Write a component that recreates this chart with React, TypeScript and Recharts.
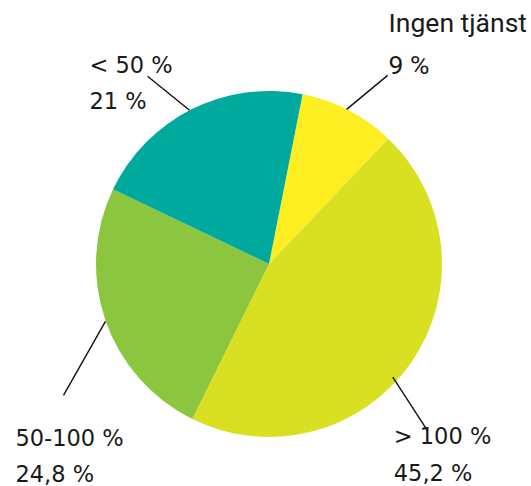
import { Cell, Pie, PieChart } from 'recharts';

const categories = ['Ingen tjänst', '> 100 %', '50-100 %', '< 50 %'];
const shares = [9, 45.2, 24.8, 21];
const shareLabels = ['9 %', '45,2 %', '24,8 %', '21 %'];
const sliceColors = ['#fcee21', '#d9e021', '#8cc63f', '#00a99d'];

// leader line + text offsets relative to the slice's outer edge at its mid angle
const labelLayout = [
  { a: [-2, -1], b: [39, -35], t: [40, -78], gap: 42, font: 'Roboto', size: 26.5 },
  { a: [-18, 14], b: [17, 68], t: [-17, 81], gap: 37, font: 'DejaVu Sans', size: 22.5 },
  { a: [0, 1], b: [-42, 75], t: [-90, 126], gap: 36, font: 'DejaVu Sans', size: 22.5 },
  { a: [-2, 1], b: [-44, -33], t: [-102, -36], gap: 36, font: 'DejaVu Sans', size: 22.5 }
];

const chartData = categories.map((name, i) => ({ name, value: shares[i], label: shareLabels[i] }));

const RAD = Math.PI / 180;

function renderLabel(props: any) {
  const { cx, cy, midAngle, outerRadius, index } = props;
  const layout = labelLayout[index];
  const ex = cx + outerRadius * Math.cos(-midAngle * RAD);
  const ey = cy + outerRadius * Math.sin(-midAngle * RAD);
  const tx = ex + layout.t[0];
  const ty = ey + layout.t[1];
  return (
    <g key={`label-${index}`}>
      <line
        x1={ex + layout.a[0]}
        y1={ey + layout.a[1]}
        x2={ex + layout.b[0]}
        y2={ey + layout.b[1]}
        stroke="#111"
        strokeWidth={1.4}
      />
      <text x={tx} y={ty} fill="#1a1a1a" fontFamily={layout.font} fontSize={layout.size} textAnchor="start">
        {categories[index]}
      </text>
      <text x={tx} y={ty + layout.gap} fill="#1a1a1a" fontFamily={layout.font} fontSize={layout.size} textAnchor="start">
        {shareLabels[index]}
      </text>
    </g>
  );
}

export default function App() {
  return (
    <div style={{ position: 'absolute', left: 0, top: 0, width: 531, height: 486, background: '#fff' }}>
      <PieChart width={531} height={486} margin={{ top: 0, right: 0, bottom: 0, left: 0 }}>
        <Pie
          data={chartData}
          dataKey="value"
          nameKey="name"
          cx={269}
          cy={264}
          outerRadius={173}
          startAngle={78.8}
          endAngle={-281.2}
          stroke="none"
          label={renderLabel}
          labelLine={false}
          isAnimationActive={false}
        >
          {chartData.map((entry, i) => (
            <Cell key={entry.name} fill={sliceColors[i]} />
          ))}
        </Pie>
      </PieChart>
    </div>
  );
}
